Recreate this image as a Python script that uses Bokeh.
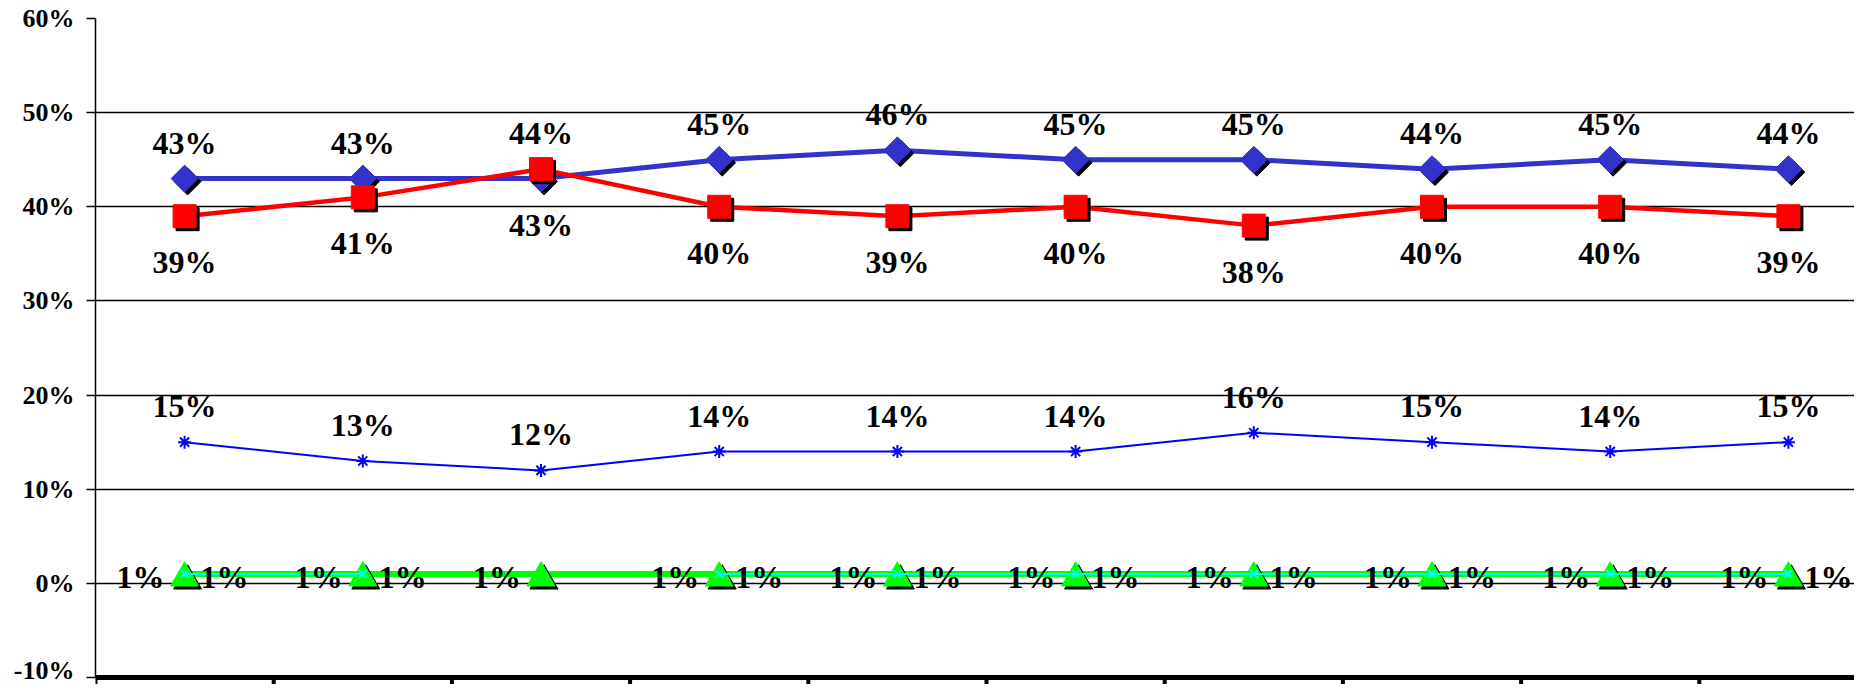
import math
import numpy as np
from bokeh.plotting import figure
from bokeh.models import Range1d, FixedTicker, PrintfTickFormatter
from bokeh.core.properties import value
from bokeh.embed import file_html
from bokeh.resources import INLINE

# ---- data ----
positions = [1, 2, 3, 4, 5, 6, 7, 8, 9, 10]
series_diamond = [43, 43, 43, 45, 46, 45, 45, 44, 45, 44]
series_square = [39, 41, 44, 40, 39, 40, 38, 40, 40, 39]
series_star = [15, 13, 12, 14, 14, 14, 16, 15, 14, 15]
series_triangle = [1, 1, 1, 1, 1, 1, 1, 1, 1, 1]
series_cross = [1, 1, np.nan, 1, 1, 1, 1, 1, 1, 1]
y_ticks = [-10, 0, 10, 20, 30, 40, 50, 60]

# ---- layout ----
FIG_W, FIG_H = 1854, 684
BORDER_L, BORDER_T = 95, 18
FRAME_W = FIG_W - BORDER_L
FRAME_H = FIG_H - BORDER_T
CAT_PX = 178.2          # pixels per category
AXIS_PX = 659.0         # pixels from 60% down to -10%
y_hi = y_ticks[-1]
PX_PER_UNIT = AXIS_PX / (y_ticks[-1] - y_ticks[0])
x_lo = positions[0] - 0.5
x_hi = x_lo + FRAME_W / CAT_PX
y_lo = y_hi - FRAME_H / PX_PER_UNIT

FONT = "Liberation Serif"

p = figure(width=FIG_W, height=FIG_H,
           x_range=Range1d(x_lo, x_hi), y_range=Range1d(y_lo, y_hi),
           x_axis_location=None,
           output_backend="svg", toolbar_location=None,
           min_border_left=BORDER_L, min_border_right=0,
           min_border_top=BORDER_T, min_border_bottom=0)
p.outline_line_color = None
p.background_fill_color = "white"
p.border_fill_color = "white"

# y axis
p.yaxis.ticker = FixedTicker(ticks=y_ticks)
p.yaxis.bounds = (y_ticks[0], y_ticks[-1])
p.yaxis.formatter = PrintfTickFormatter(format="%d%%")
p.yaxis.major_label_text_font = FONT
p.yaxis.major_label_text_font_style = "bold"
p.yaxis.major_label_text_font_size = "26px"
p.yaxis.major_label_text_color = "black"
p.yaxis.axis_line_color = "black"
p.yaxis.axis_line_width = 1.5
p.yaxis.major_tick_line_color = "black"
p.yaxis.major_tick_line_width = 1.5
p.yaxis.major_tick_out = 9
p.yaxis.major_tick_in = 0
p.yaxis.minor_tick_line_color = None
p.yaxis.major_label_standoff = 12

# grid
p.xgrid.grid_line_color = None
p.ygrid.grid_line_color = "black"
p.ygrid.grid_line_width = 1.5

# category axis at the bottom (-10%): thick line with ticks on category boundaries
boundaries = [x - 0.5 for x in positions] + [positions[-1] + 0.5]
p.segment(x0=[x_lo], y0=[y_ticks[0]], x1=[x_hi], y1=[y_ticks[0]],
          line_color="black", line_width=5)
p.segment(x0=boundaries, y0=[y_ticks[0]] * len(boundaries),
          x1=boundaries, y1=[y_lo] * len(boundaries),
          line_color="black", line_width=4)

# shadow offsets (3px right, 3px down) in data units
sdx = 3.0 / CAT_PX
sdy = 3.0 / PX_PER_UNIT
tri_dy = 4.0 / PX_PER_UNIT
shadow_x = [x + sdx for x in positions]

def shifted(vals, d):
    return [v - d for v in vals]

# asterisk series
p.line(positions, series_star, line_color="#0000FF", line_width=2)
p.scatter(positions, series_star, marker="asterisk", size=13,
          line_color="#0000FF", line_width=2)

# triangle series
p.line(positions, series_triangle, line_color="#00FF00", line_width=6)
p.scatter(shadow_x, shifted(series_triangle, tri_dy + sdy), marker="triangle", size=28,
          fill_color="black", line_color="black")
p.scatter(positions, shifted(series_triangle, tri_dy), marker="triangle", size=28,
          fill_color="#00FF00", line_color="#00FF00")

# cross series
p.line(positions, series_cross, line_color="#00FFFF", line_width=2)
p.scatter(positions, series_cross, marker="x", size=11,
          line_color="#00FFFF", line_width=2)

# diamond series
p.line(positions, series_diamond, line_color="#3333CC", line_width=5)
p.scatter(shadow_x, shifted(series_diamond, sdy), marker="square", size=19, angle=math.pi / 4,
          fill_color="black", line_color="black")
p.scatter(positions, series_diamond, marker="square", size=19, angle=math.pi / 4,
          fill_color="#3333CC", line_color="#3333CC")

# square series
p.line(positions, series_square, line_color="#FF0000", line_width=4.5)
p.scatter(shadow_x, shifted(series_square, sdy), marker="square", size=23,
          fill_color="black", line_color="black")
p.scatter(positions, series_square, marker="square", size=23,
          fill_color="#FF0000", line_color="#FF0000")

# ---- data labels ----
label_style = dict(text_font=value(FONT), text_font_style="bold",
                   text_font_size=value("32px"), text_color="black",
                   text_align="center", text_baseline="middle")

upper = [max(a, b) for a, b in zip(series_diamond, series_square)]
lower = [min(a, b) for a, b in zip(series_diamond, series_square)]
p.text(positions, upper, text=[f"{v}%" for v in upper], y_offset=-36, **label_style)
p.text(positions, lower, text=[f"{v}%" for v in lower], y_offset=46, **label_style)

p.text(positions, series_star, text=[f"{v}%" for v in series_star], y_offset=-36, **label_style)

p.text(positions, series_triangle, text=[f"{v}%" for v in series_triangle],
       x_offset=-44, y_offset=3, **label_style)
cx = [x for x, v in zip(positions, series_cross) if not np.isnan(v)]
cv = [v for v in series_cross if not np.isnan(v)]
p.text(cx, cv, text=[f"{int(v)}%" for v in cv], x_offset=40, y_offset=3, **label_style)

open("out.html", "w").write(file_html(p, INLINE))
